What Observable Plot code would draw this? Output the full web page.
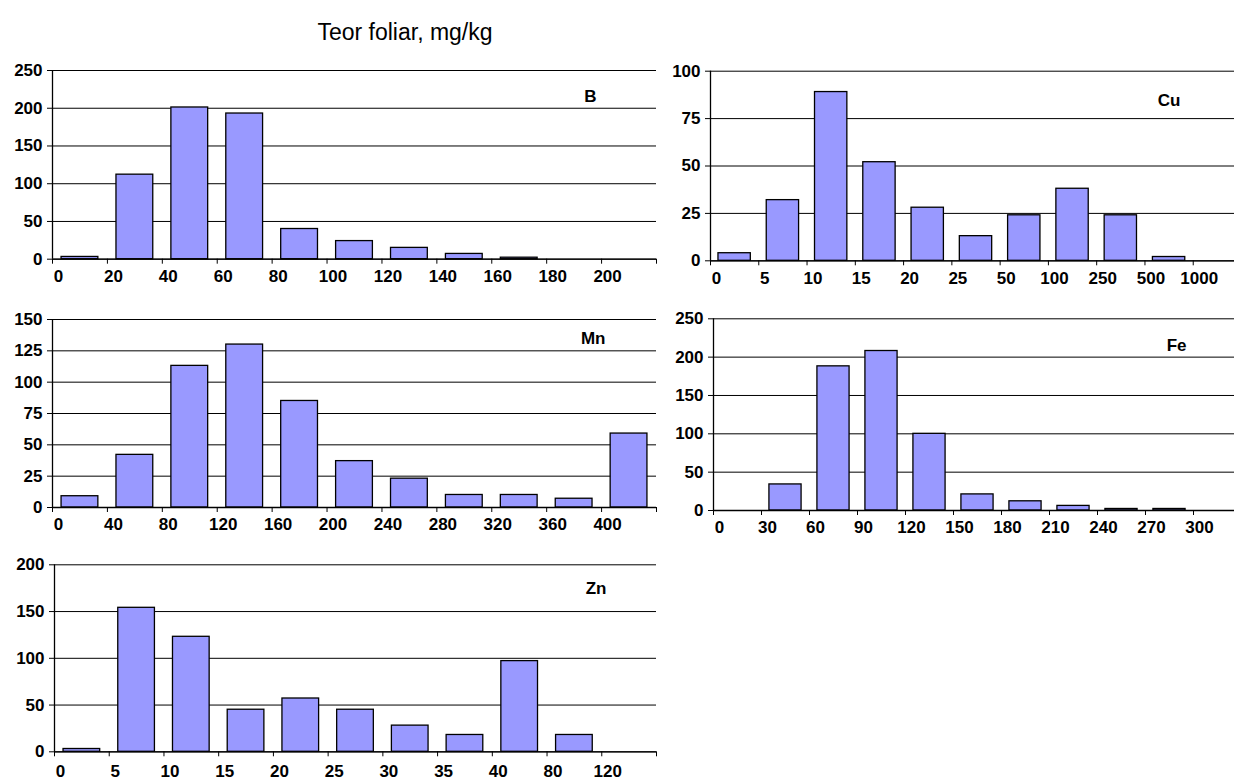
<!DOCTYPE html>
<html><head><meta charset="utf-8">
<script src="https://cdn.jsdelivr.net/npm/d3@7"></script>
<script src="https://cdn.jsdelivr.net/npm/@observablehq/plot@0.6"></script>
<style>
html,body{margin:0;padding:0;background:#fff;overflow:hidden}
#wrap{position:relative;width:1234px;height:781px;overflow:hidden;font-family:"Liberation Sans",Arial,sans-serif;background:#fff}
#title{position:absolute;left:0;width:810px;top:19px;text-align:center;font-size:23px;color:#000}
.panel{position:absolute}
.panel svg{max-width:none !important;display:block}
.panel svg text{font-weight:700}
</style></head><body>
<div id="wrap"><div id="title">Teor foliar, mg/kg</div></div>
<script>
// ---- data ----
const bLabels  = ["0","20","40","60","80","100","120","140","160","180","200"];
const bCounts  = [3,112,201,193,40,24,15,7,2,0,0];
const bTicks   = [0,50,100,150,200,250];

const cuLabels = ["0","5","10","15","20","25","50","100","250","500","1000"];
const cuCounts = [4,32,89,52,28,13,24,38,24,2,0];
const cuTicks  = [0,25,50,75,100];

const mnLabels = ["0","40","80","120","160","200","240","280","320","360","400"];
const mnCounts = [9,42,113,130,85,37,23,10,10,7,59];
const mnTicks  = [0,25,50,75,100,125,150];

const feLabels = ["0","30","60","90","120","150","180","210","240","270","300"];
const feCounts = [0,34,188,208,100,21,12,6,2,2,0];
const feTicks  = [0,50,100,150,200,250];

const znLabels = ["0","5","10","15","20","25","30","35","40","80","120"];
const znCounts = [3,154,123,45,57,45,28,18,97,18,0];
const znTicks  = [0,50,100,150,200];

// ---- layout ----
const panels = [
  {name:"B",  labels:bLabels,  counts:bCounts,  ticks:bTicks,  left:0,   top:55,  width:670, height:240, mL:52, mR:14, mT:15,   mB:36.3, lp:11,   ndx:-60, ndy:26},
  {name:"Cu", labels:cuLabels, counts:cuCounts, ticks:cuTicks, left:660, top:55,  width:590, height:240, mL:50, mR:9,  mT:15.7, mB:34.7, lp:11,   ndx:-61, ndy:29.5},
  {name:"Mn", labels:mnLabels, counts:mnCounts, ticks:mnTicks, left:0,   top:305, width:670, height:240, mL:52, mR:14, mT:14,   mB:38,   lp:10.5, ndx:-51, ndy:19},
  {name:"Fe", labels:feLabels, counts:feCounts, ticks:feTicks, left:660, top:305, width:590, height:240, mL:53, mR:9,  mT:13.3, mB:35,   lp:10.5, ndx:-55, ndy:26.5},
  {name:"Zn", labels:znLabels, counts:znCounts, ticks:znTicks, left:0,   top:550, width:670, height:231, mL:54, mR:14, mT:14.3, mB:29.7, lp:13.5, ndx:-50, ndy:24}
];

const wrap = document.getElementById("wrap");
for (const p of panels) {
  const n = p.labels.length;
  const bw = (p.width - p.mL - p.mR) / n;
  const inset = bw * 0.165;
  const data = p.counts.map((c, i) => ({i, c})).filter(d => d.c > 0);
  const ymax = p.ticks[p.ticks.length - 1];
  const svg = Plot.plot({
    width: p.width, height: p.height,
    marginLeft: p.mL, marginRight: p.mR, marginTop: p.mT, marginBottom: p.mB,
    style: {background: "transparent", fontFamily: "'Liberation Sans', Arial, sans-serif", fontSize: "17px", fontWeight: "bold", color: "#000", overflow: "visible"},
    x: {domain: [0, n]},
    y: {domain: [0, ymax]},
    marks: [
      Plot.gridY(p.ticks, {stroke: "#000", strokeOpacity: 1, strokeWidth: 1}),
      Plot.rectY(data, {x1: d => d.i, x2: d => d.i + 1, y: "c", fill: "#9999ff", stroke: "#000", strokeWidth: 1.3, insetLeft: inset, insetRight: inset}),
      Plot.ruleY([0], {stroke: "#000", strokeWidth: 1.3}),
      Plot.ruleX([0], {stroke: "#000", strokeWidth: 1.3}),
      Plot.axisY({ticks: p.ticks, tickSize: 5, tickPadding: 5, label: null, stroke: "#000", fill: "#000", fontSize: 17, fontWeight: "bold"}),
      Plot.axisX({ticks: d3.range(n + 1), tickSize: 5, tickFormat: () => "", label: null, stroke: "#000"}),
      Plot.axisX({ticks: d3.range(n), tickSize: 0, tickPadding: p.lp, dx: 6, tickFormat: i => p.labels[i], label: null, fill: "#000", fontSize: 17, fontWeight: "bold"}),
      Plot.text([p.name], {text: d => d, frameAnchor: "top-right", textAnchor: "end", lineAnchor: "middle", dx: p.ndx, dy: p.ndy, fontSize: 17, fontWeight: "bold", fill: "#000"})
    ]
  });
  const div = document.createElement("div");
  div.className = "panel";
  div.style.left = p.left + "px";
  div.style.top = p.top + "px";
  div.style.width = p.width + "px";
  div.style.height = p.height + "px";
  div.appendChild(svg);
  wrap.appendChild(div);
}
</script>
</body></html>
